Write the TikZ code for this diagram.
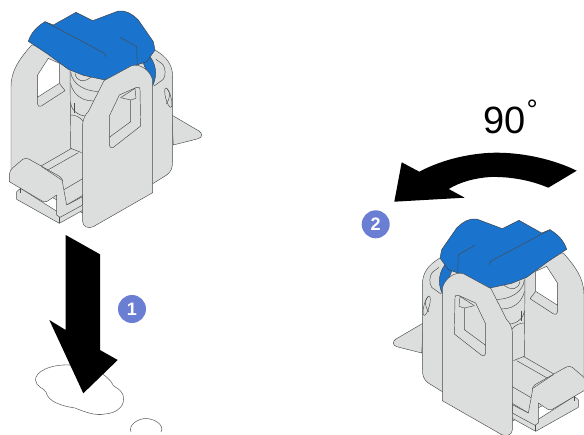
\documentclass[tikz,border=0pt]{standalone}
\usepackage{fontspec}
\setmainfont{Liberation Sans}
\usepackage{tikz}
\usetikzlibrary{positioning}
\definecolor{plategray}{HTML}{DCDEDD}
\definecolor{tabblue}{HTML}{1A73CC}
\definecolor{badgeblue}{HTML}{6A7FD3}
\definecolor{edgegray}{HTML}{4A4A4A}

\tikzset{
    part/.style={draw=edgegray, line width=0.45pt, line join=round, fill=plategray},
    tab/.style={part, fill=tabblue, draw=black!75},
    detail/.style={draw=edgegray, line width=0.45pt, line join=round},
    bigarrow/.style={fill=black},
    mark outline/.style={draw=black!60, line width=0.55pt},
    badge/.style={circle, fill=badgeblue, text=white, minimum size=28pt, inner sep=0pt, font=\bfseries\fontsize{18}{18}\selectfont},
    pics/latchclip/.style={code={
        \begin{scope}[scale=1/3]
        % fin and back plate
        \path[part] (515,345) -- (597,393) .. controls (608,400) and (608,412) .. (595,416) -- (520,435) -- cycle;
        \path[part] (95,135) .. controls (60,175) and (33,210) .. (33,260) -- (33,530) -- (250,640) -- (460,550) -- (500,525) .. controls (515,515) and (518,500) .. (518,480) -- (518,230) .. controls (518,195) and (500,170) .. (465,150) -- cycle;
        % back window
        \path[detail] (112,225) -- (112,310) .. controls (112,318) and (118,322) .. (124,318) -- (195,272) -- (178,250);
        \path[detail, fill=white] (112,226) -- (145,175) -- (178,190) -- (178,250) -- (112,292) -- cycle;
        % spring
        \path[detail] (210,205) -- (212,445) -- (245,458);
        \path[detail] (212,215) .. controls (215,250) and (250,275) .. (305,275);
        \path[detail] (225,220) .. controls (230,245) and (250,250) .. (275,230);
        \path[detail] (212,250) .. controls (220,295) and (270,315) .. (310,295);
        \path[detail] (212,310) .. controls (215,335) and (245,355) .. (270,345);
        \path[detail] (222,310) -- (222,340);
        \path[detail] (212,345) .. controls (225,345) and (240,350) .. (250,365);
        % rails and latch
        \path[detail] (120,500) -- (215,445);
        \path[detail] (140,512) -- (235,458);
        \path[detail] (190,570) -- (250,535);
        \path[detail] (200,615) -- (250,585);
        \path[part] (50,575) -- (50,598) -- (178,670) -- (250,630) -- (250,600) -- (180,640) -- (62,565) -- cycle;
        \path[part] (28,525) .. controls (30,510) and (35,505) .. (45,498) -- (68,478) .. controls (75,473) and (80,474) .. (88,478) -- (180,530) .. controls (186,535) and (188,540) .. (188,550) -- (200,615) -- (248,590) -- (248,615) -- (180,652) -- (170,645) -- (170,585) -- (140,605) .. controls (135,607) and (132,606) .. (128,604) -- (28,545) -- cycle;
        \path[detail] (125,500) -- (188,542);
        \path[detail] (178,650) -- (178,670);
        \path[detail] (62,565) -- (62,580);
        % blue tab
        \path[tab] (430,190) -- (450,170) .. controls (465,190) and (475,220) .. (458,258) -- cycle;
        \path[tab] (85,124) .. controls (92,100) and (110,80) .. (135,65) -- (160,75) -- (228,37) -- (278,62) -- (355,33) .. controls (375,30) and (395,40) .. (415,60) -- (460,125) -- (465,150) -- (440,185) -- (405,197) -- (315,240) -- (250,226) -- (205,208) -- (140,160) -- cycle;
        \path[detail] (135,65) -- (310,158) .. controls (316,162) and (318,165) .. (318,172);
        \path[detail] (360,112) -- (410,140) -- (412,195);
        % cylinder lines and pin hole
        \path[detail] (468,178) -- (488,193) .. controls (497,205) and (498,225) .. (490,238) -- (462,258);
        \path[detail] (505,293) ellipse [x radius=8, y radius=30, rotate=15];
        \path[detail] (500,265) .. controls (512,275) and (512,295) .. (498,312);
        % front plate
        \path[part] (248,372) .. controls (250,355) and (255,345) .. (265,335) -- (312,242) -- (395,197) .. controls (420,190) and (450,210) .. (458,240) -- (458,578) -- (280,680) .. controls (265,687) and (248,680) .. (248,665) -- cycle;
        \path[detail] (328,348) -- (358,285) -- (410,262) .. controls (416,260) and (420,262) .. (420,268) -- (422,378) -- (340,442) .. controls (334,445) and (328,442) .. (328,436) -- cycle;
        \path[detail] (362,293) -- (405,265) -- (408,295) -- (392,300) -- (392,365) -- (328,412);
        \path[detail] (362,293) -- (392,300);
        \end{scope}
    }}
}

\begin{document}
\begin{tikzpicture}[x=1pt, y=-1pt]
    \useasboundingbox (0,0) rectangle (584,434);

    % washers on the floor
    \path[mark outline] (70,365) .. controls (50,364) and (35,372) .. (35.5,380) .. controls (36,387) and (44,388) .. (46,392) .. controls (48,402) and (62,406) .. (75,408) .. controls (85,412) and (95,416) .. (105,414) .. controls (118,413) and (126,405) .. (123,395) .. controls (120,388) and (115,388) .. (113,385) .. controls (110,378) and (100,372) .. (90,366) -- cycle;
    \path[mark outline] (131,432) .. controls (128,425) and (138,418.5) .. (146,418.5) .. controls (154,418.5) and (165,425) .. (161,432);

    % the two clips
    \pic {latchclip};
    \pic[shift={(595,208)}, xscale=-1] {latchclip};

    % arrows
    \path[bigarrow] (65.7,235) -- (100,254.3) -- (100,350) -- (117.7,360) -- (83.3,393.3) -- (49.3,320) -- (65.7,330) -- cycle;
    \path[bigarrow] (394.3,201.7) -- (401.7,162.3) -- (419.3,171.7) .. controls (445,158) and (475,152.7) .. (496.7,152.7) .. controls (525,152.7) and (555,160) .. (576.7,170.7) -- (548.3,187.7) .. controls (530,180) and (510,176.5) .. (490,177) .. controls (475,178) and (460,182) .. (448.7,189) -- (464.7,197.7) -- cycle;

    \node (stepone) [badge] at (132,309) {1};
    \node (steptwo) [badge] at (375.7,224.3) {2};
    \node (angle) at (504.5,120) {\fontsize{38}{38}\selectfont 90};
    \node (degree) at (532.3,110) {\fontsize{28}{28}\selectfont °};
\end{tikzpicture}
\end{document}
